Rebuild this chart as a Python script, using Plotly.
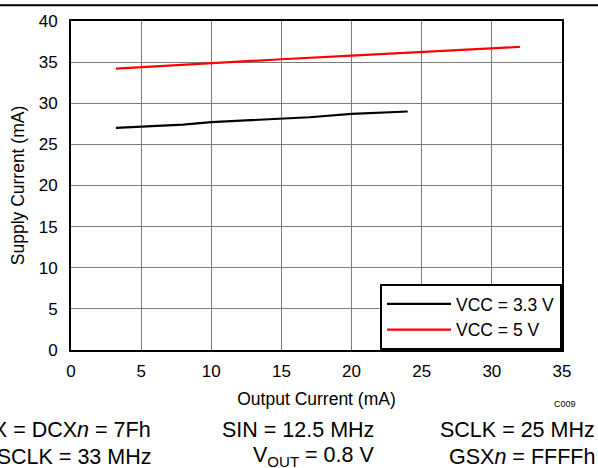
import plotly.graph_objects as go

# Data
x_33 = [3.2, 8, 10, 15, 17, 20, 24]
y_33 = [27.0, 27.4, 27.7, 28.1, 28.3, 28.7, 29.0]
x_5 = [3.2, 10, 15, 20, 25, 32]
y_5 = [34.2, 34.9, 35.35, 35.8, 36.2, 36.85]
names = ["VCC = 3.3 V", "VCC = 5 V"]
x_ticks = [0, 5, 10, 15, 20, 25, 30, 35]
y_ticks = [0, 5, 10, 15, 20, 25, 30, 35, 40]

FONT = "Arial, Liberation Sans, sans-serif"
W, H = 598, 468
ml, mr, mt, mb = 71, 36, 17, 118

fig = go.Figure()
fig.add_trace(go.Scatter(x=x_33, y=y_33, mode="lines", name=names[0],
                         line=dict(color="black", width=2.2)))
fig.add_trace(go.Scatter(x=x_5, y=y_5, mode="lines", name=names[1],
                         line=dict(color="#ff0000", width=2.2)))

axis_common = dict(showgrid=True, gridcolor="#7a7a7a", gridwidth=1,
                   showline=True, linecolor="black", linewidth=2, mirror=True,
                   zeroline=False, ticks="", tickfont=dict(family=FONT, size=17, color="black"))

fig.update_xaxes(range=[0, 35], tickvals=x_ticks, ticktext=[str(v) for v in x_ticks],
                 ticklabelstandoff=5,
                 title=dict(text="Output Current (mA)", font=dict(family=FONT, size=17.5, color="black"), standoff=12),
                 **axis_common)
fig.update_yaxes(range=[0, 40], tickvals=y_ticks, ticktext=[str(v) for v in y_ticks],
                 ticklabelstandoff=8,
                 title=dict(text="Supply Current (mA)", font=dict(family=FONT, size=17.5, color="black"), standoff=10),
                 **axis_common)

def px_x(p):
    return (p - ml) / (W - ml - mr)

def px_y(p):
    return 1 - (p - mt) / (H - mt - mb)

annos = [
    dict(text="C009", x=px_x(578), y=px_y(405), size=9, anchor="right"),
    dict(text="BCX = DCX<i>n</i> = 7Fh", x=px_x(153), y=px_y(431), size=21.5, anchor="right"),
    dict(text="SIN = 12.5 MHz", x=px_x(376), y=px_y(431), size=21.5, anchor="right"),
    dict(text="SCLK = 25 MHz", x=px_x(597), y=px_y(431), size=21.5, anchor="right"),
    dict(text="GSCLK = 33 MHz", x=px_x(153), y=px_y(458), size=21.5, anchor="right"),
    dict(text="V<sub>OUT</sub> = 0.8 V", x=px_x(376), y=px_y(458), size=21.5, anchor="right"),
    dict(text="GSX<i>n</i> = FFFFh", x=px_x(597), y=px_y(458), size=21.5, anchor="right"),
]
for a in annos:
    fig.add_annotation(text=a["text"], x=a["x"], y=a["y"], xref="paper", yref="paper",
                       xanchor=a["anchor"], yanchor="middle", showarrow=False,
                       font=dict(family=FONT, size=a["size"], color="black"))

fig.add_shape(type="line", xref="paper", yref="paper", x0=px_x(0), x1=px_x(W),
              y0=px_y(1), y1=px_y(1), line=dict(color="black", width=2))

fig.update_layout(
    width=W, height=H,
    margin=dict(l=ml, r=mr, t=mt, b=mb),
    paper_bgcolor="white", plot_bgcolor="white",
    font=dict(family=FONT, color="black"),
    legend=dict(x=1, y=0, xanchor="right", yanchor="bottom",
                bgcolor="white", bordercolor="black", borderwidth=2,
                font=dict(family=FONT, size=17.5, color="black"),
                tracegroupgap=0, itemwidth=64),
    showlegend=True,
)

fig.write_html("out.html", config={"displayModeBar": False},
               post_script="document.body.style.margin='0';document.body.style.padding='0';")
